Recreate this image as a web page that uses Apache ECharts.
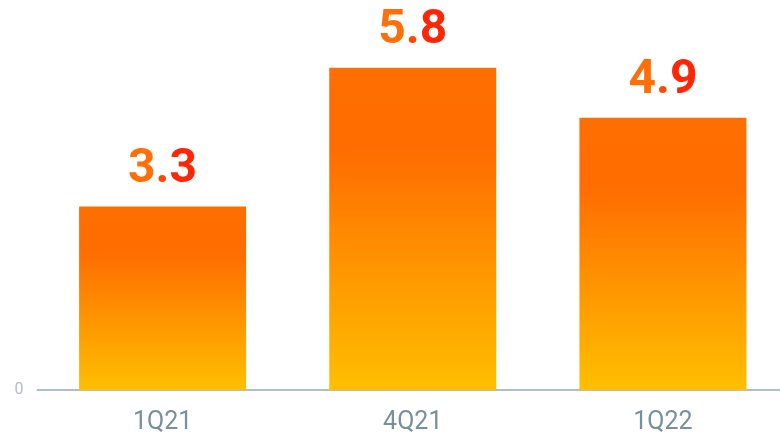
<!DOCTYPE html>
<html><head><meta charset="utf-8">
<script src="https://cdn.jsdelivr.net/npm/echarts@6/dist/echarts.min.js"></script>
<style>html,body{margin:0;padding:0;background:#fff;overflow:hidden;width:780px;height:435px}#c{width:788px;height:435px}</style>
</head><body><div id="c"></div>
<script>
const categories = ['1Q21', '4Q21', '1Q22'];
const values = [3.3, 5.8, 4.9];
const yTicks = [0];

const chart = echarts.init(document.getElementById('c'), null, {renderer: 'canvas'});
const barGrad = new echarts.graphic.LinearGradient(0, 0, 0, 1, [
  {offset: 0, color: '#ff6e00'},
  {offset: 0.25, color: '#ff6c00'},
  {offset: 1, color: '#ffbf00'}
]);
const charColors = ['#ff6f08', '#ff4806', '#ff2606'];
const richBase = {fontSize: 48, fontWeight: 'bold', fontFamily: 'Roboto'};
const rich = {};
charColors.forEach((c, i) => { rich['c' + i] = Object.assign({}, richBase, {color: c}); });

chart.setOption({
  animation: false,
  grid: {left: 37.5, top: 1, bottom: 43, right: 0, containLabel: false},
  xAxis: {
    type: 'category', data: categories,
    axisLine: {show: true, lineStyle: {color: '#b0bec5', width: 2}},
    axisTick: {show: false},
    axisLabel: {color: '#78909c', fontSize: 25, fontFamily: 'Roboto', margin: 20}
  },
  yAxis: {
    type: 'value', min: 0, max: 7, interval: 7,
    splitLine: {show: false},
    axisLine: {show: false}, axisTick: {show: false},
    axisLabel: {color: '#b0bec5', fontSize: 16, fontFamily: 'Roboto', margin: 14,
      formatter: v => yTicks.includes(v) ? String(v) : ''}
  },
  series: [{
    type: 'bar', data: values, barWidth: 167,
    itemStyle: {color: barGrad},
    label: {show: true, position: 'top', distance: 13,
      fontSize: 48, fontWeight: 'bold', fontFamily: 'Roboto',
      rich: rich,
      formatter: p => p.value.toFixed(1).split('').map((ch, i) => '{c' + i + '|' + ch + '}').join('')}
  }]
});
</script></body></html>
